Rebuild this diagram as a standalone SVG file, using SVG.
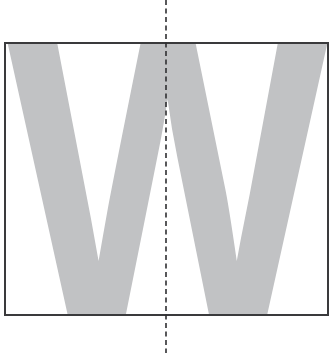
<svg xmlns="http://www.w3.org/2000/svg" width="329" height="356" viewBox="0 0 329 356">
  <defs>
    <clipPath id="box">
      <rect x="5" y="43" width="323" height="272"/>
    </clipPath>
  </defs>
  <style>
    .frame { fill: none; stroke: #3a3a3c; stroke-width: 2; }
    .axis { fill: none; stroke: #2f2f31; stroke-width: 1.6; stroke-dasharray: 5 3.5; }
    .letter { fill: #c1c2c4; font-family: "Liberation Sans", Arial, sans-serif; font-weight: bold; }
  </style>
  <rect width="329" height="356" fill="#ffffff"/>
  <g id="letter" clip-path="url(#box)">
    <text class="letter" transform="translate(167.5,315) scale(0.858,1)" font-size="396" text-anchor="middle">W</text>
  </g>
  <g id="frame">
    <rect class="frame" x="5" y="43" width="323" height="272"/>
  </g>
  <g id="axis">
    <line class="axis" x1="166" y1="0" x2="166" y2="353"/>
  </g>
</svg>
